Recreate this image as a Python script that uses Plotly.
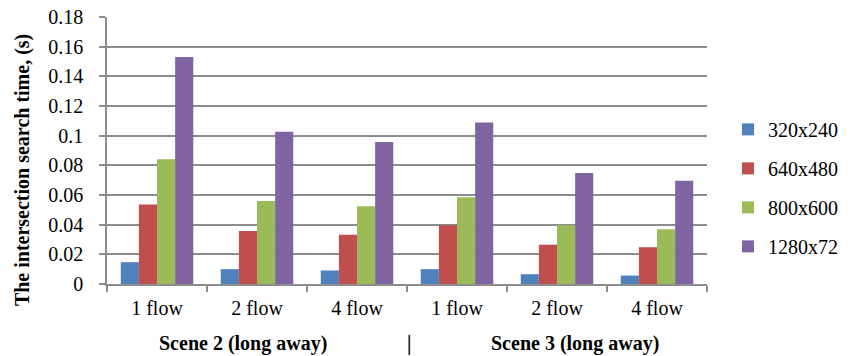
import plotly.graph_objects as go

scenes = ["Scene 2 (long away)", "Scene 3 (long away)"]
flows = ["1 flow", "2 flow", "4 flow"]
series_names = ["320x240", "640x480", "800x600", "1280x72"]
v_320 = [0.0147, 0.0100, 0.0091, 0.0100, 0.0066, 0.0057]
v_640 = [0.0536, 0.0358, 0.0332, 0.0396, 0.0265, 0.0248]
v_800 = [0.0841, 0.0560, 0.0524, 0.0585, 0.0396, 0.0369]
v_1280 = [0.1530, 0.1026, 0.0957, 0.1088, 0.0749, 0.0696]
colors = ["#4F81BD", "#C0504D", "#9BBB59", "#8064A2"]

keys = [f"{s}|{f}" for s in scenes for f in flows]
labels = [f for s in scenes for f in flows]

FONT = "Liberation Serif, Times New Roman, serif"
GRID = "#8c8c8c"

fig = go.Figure()
for name, vals, col in zip(series_names, [v_320, v_640, v_800, v_1280], colors):
    fig.add_trace(go.Bar(x=keys, y=vals, name=name, marker_color=col,
                         marker_line_width=0, legendgroup=name))

fig.update_layout(
    width=855, height=356,
    margin=dict(l=107, r=144, t=17, b=72),
    paper_bgcolor="white", plot_bgcolor="white",
    barmode="group", bargap=0.275, bargroupgap=0,
    font=dict(family=FONT, size=20, color="black"),
    legend=dict(x=1.035, y=0.36, xanchor="left", yanchor="middle",
                font=dict(size=20), tracegroupgap=10, traceorder="grouped",
                bgcolor="rgba(0,0,0,0)"),
    xaxis=dict(type="category", tickvals=keys, ticktext=labels,
               tickson="boundaries", ticks="outside", ticklen=6,
               tickcolor=GRID, tickwidth=1.5, showline=True, linecolor=GRID,
               linewidth=1.5, showgrid=False, ticklabelstandoff=5,
               automargin=False),
    yaxis=dict(range=[0, 0.18], dtick=0.02, tick0=0, showgrid=True,
               gridcolor=GRID, gridwidth=1.5, showline=True, linecolor=GRID,
               linewidth=1.5, ticks="outside", ticklen=6, tickcolor=GRID,
               tickwidth=1.5, zeroline=False, ticklabelstandoff=12,
               automargin=False),
)

ann = [
    dict(text="<b>The intersection search time, (s)</b>", textangle=-90,
         xref="paper", yref="paper", x=-0.1407, y=0.425,
         xanchor="center", yanchor="middle", showarrow=False),
    dict(text=f"<b>{scenes[0]}</b>", xref="paper", yref="paper",
         x=(243.5 - 107) / 604, y=-0.221, xanchor="center", yanchor="middle", showarrow=False),
    dict(text="<b>|</b>", xref="paper", yref="paper",
         x=(410.7 - 107) / 604, y=-0.221, xanchor="center", yanchor="middle", showarrow=False),
    dict(text=f"<b>{scenes[1]}</b>", xref="paper", yref="paper",
         x=(578 - 107) / 604, y=-0.221, xanchor="center", yanchor="middle", showarrow=False),
]
fig.update_layout(annotations=ann)

fig.write_html("out.html", config={"displayModeBar": False},
               post_script="document.body.style.margin='0';")
